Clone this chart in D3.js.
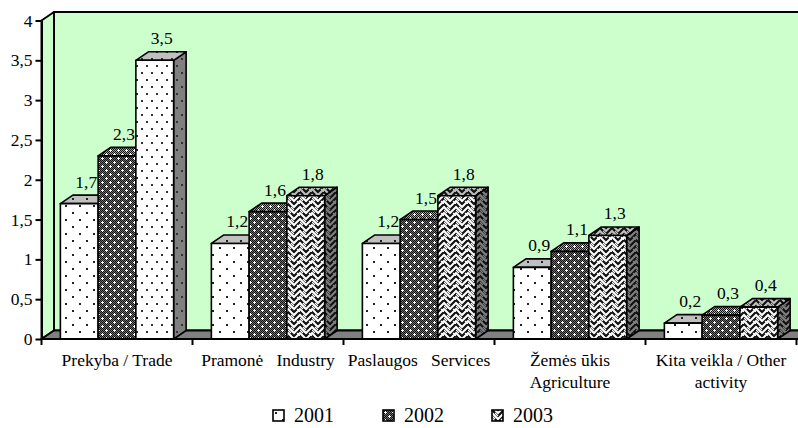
<!DOCTYPE html>
<html>
<head>
<meta charset="utf-8">
<script src="https://cdn.jsdelivr.net/npm/d3@7"></script>
<style>
  body { margin: 0; background: #fff; }
  svg { display: block; }
  svg text { font-family: "Liberation Serif", "DejaVu Serif", "Times New Roman", Times, serif; fill: #000; }
</style>
</head>
<body>
<svg id="chart" width="798" height="428"></svg>
<script>
// Activity categories (each entry = label lines)
const categories = [
  ["Prekyba / Trade"],
  ["Pramonė   Industry"],
  ["Paslaugos   Services"],
  ["Žemės ūkis", "Agriculture"],
  ["Kita veikla / Other", "activity"]
];
const years = ["2001", "2002", "2003"];
const values2001 = [1.7, 1.2, 1.2, 0.9, 0.2];
const values2002 = [2.3, 1.6, 1.5, 1.1, 0.3];
const values2003 = [3.5, 1.8, 1.8, 1.3, 0.4];
const yTicks = [0, 0.5, 1, 1.5, 2, 2.5, 3, 3.5, 4];

const series = [values2001, values2002, values2003];
const keys = categories.map(c => c.join(" "));
const FONT = '"Liberation Serif", "DejaVu Serif", "Times New Roman", Times, serif';

const svg = d3.select("#chart").attr("font-family", FONT);
const locale = d3.formatLocale({ decimal: ",", thousands: " ", grouping: [3], currency: ["", ""] });
const fmtTick = locale.format("~g");
const fmtVal = locale.format(".1f");

// 3D depth offset of walls and columns
const DX = 12.5, DY = -8.5;

const x = d3.scaleBand().domain(keys).range([41.5, 796.5]).paddingInner(0).paddingOuter(0);
const xs = d3.scaleBand().domain(years).range([0, x.bandwidth()]).paddingInner(0).paddingOuter(0.5);
const y = d3.scaleLinear().domain([0, 4]).range([339, 20.5]);

// ---------- fill patterns ----------
const defs = svg.append("defs");
function pattern(id, w, h, bg, draw) {
  const p = defs.append("pattern").attr("id", id)
    .attr("patternUnits", "userSpaceOnUse").attr("width", w).attr("height", h);
  p.append("rect").attr("width", w).attr("height", h).attr("fill", bg);
  draw(p);
}
function dot(p, cx, cy, col) {
  p.append("rect").attr("x", cx - 1).attr("y", cy - 1).attr("width", 2).attr("height", 2).attr("fill", col || "#222");
}
const faceBg = { front: "#ffffff", top: "#c0c0c0", side: "#808080" };
const meshBg = { front: "#707070", top: "#a0a0a0", side: "#505050" };
Object.keys(faceBg).forEach(face => {
  pattern(`sparse-${face}`, 14, 14, faceBg[face], p => { dot(p, 3, 3); dot(p, 10, 10); });
  pattern(`dense-${face}`, 10, 14, faceBg[face], p => { dot(p, 2, 3, "#333"); dot(p, 7, 10, "#333"); });
  // woven zig-zag: chevron rows, every other row shifted half a tile
  pattern(`zig-${face}`, 12, 12, faceBg[face], p => {
    p.append("path")
      .attr("d",
        "M-6,6 L0,0 L6,6 L12,0 L18,6 " +
        "M-6,12 L0,6 L6,12 L12,6 L18,12 " +
        "M-6,0 L0,-6 L6,0 L12,-6 L18,0 " +
        "M-6,18 L0,12 L6,18 L12,12 L18,18")
      .attr("fill", "none").attr("stroke", "#111").attr("stroke-width", 2.2);
    p.append("path")
      .attr("d", "M3,3 L6,6 M9,9 L12,12 M0,6 L3,9")
      .attr("fill", "none").attr("stroke", faceBg[face]).attr("stroke-width", 1.2);
  });
  pattern(`mesh-${face}`, 8, 8, meshBg[face], p => {
    for (let i = 0; i < 8; i++) for (let j = 0; j < 8; j++) {
      if ((i + j) % 2 === 0) p.append("rect").attr("x", i).attr("y", j).attr("width", 1).attr("height", 1).attr("fill", "#111");
    }
    [[2, 2], [6, 6]].forEach(([cx, cy]) => {
      p.append("path").attr("d", `M${cx - 1},${cy + 0.5}h3M${cx + 0.5},${cy - 1}v3`)
        .attr("stroke", "#fff").attr("stroke-width", 1);
    });
  });
});
const seriesPattern = ["sparse", "mesh", "zig"];
function fillFor(s, i, face) {
  const name = (s === 2 && i === 0) ? "dense" : seriesPattern[s];
  return `url(#${name}-${face})`;
}

// ---------- walls and floor ----------
const x0w = x.range()[0], y0 = y(0), yTop = y(4);
const walls = svg.append("g").attr("stroke", "#000").attr("stroke-width", 2).attr("stroke-linejoin", "round");
walls.append("rect")
  .attr("x", x0w + DX).attr("y", yTop + DY)
  .attr("width", 900).attr("height", y0 - yTop)
  .attr("fill", "#ccffcc");
walls.append("polygon")
  .attr("points", [[x0w, yTop], [x0w + DX, yTop + DY], [x0w + DX, y0 + DY], [x0w, y0]].join(" "))
  .attr("fill", "#ccffcc");
walls.append("polygon")
  .attr("points", [[x0w, y0], [x0w + DX, y0 + DY], [820, y0 + DY], [820, y0]].join(" "))
  .attr("fill", "#808080");

// ---------- columns ----------
const bars = svg.append("g").attr("stroke", "#000").attr("stroke-width", 1.6).attr("stroke-linejoin", "round");
keys.forEach((k, i) => {
  series.forEach((vals, s) => {
    const v = vals[i];
    const a = x(k) + xs(years[s]);
    const b = a + xs.bandwidth();
    const t = y(v);
    const g = bars.append("g");
    g.append("polygon")
      .attr("points", [[b, t], [b + DX, t + DY], [b + DX, y0 + DY], [b, y0]].join(" "))
      .attr("fill", fillFor(s, i, "side"));
    g.append("polygon")
      .attr("points", [[a, t], [a + DX, t + DY], [b + DX, t + DY], [b, t]].join(" "))
      .attr("fill", fillFor(s, i, "top"));
    g.append("rect")
      .attr("x", a).attr("y", t).attr("width", b - a).attr("height", y0 - t)
      .attr("fill", fillFor(s, i, "front"));
  });
});

// ---------- value labels ----------
const labels = svg.append("g").attr("font-size", 17.5).attr("text-anchor", "middle");
keys.forEach((k, i) => {
  series.forEach((vals, s) => {
    const v = vals[i];
    labels.append("text")
      .attr("x", x(k) + xs(years[s]) + xs.bandwidth() / 2 + 7)
      .attr("y", y(v) - 16)
      .text(fmtVal(v));
  });
});

// ---------- axes ----------
const yAxis = svg.append("g")
  .attr("transform", `translate(${x0w},0)`)
  .call(d3.axisLeft(y).tickValues(yTicks).tickFormat(fmtTick).tickSize(6).tickSizeOuter(0).tickPadding(3));
yAxis.attr("font-family", FONT).attr("font-size", 17.5);
yAxis.select(".domain").attr("stroke", "#000").attr("stroke-width", 2);
yAxis.selectAll(".tick line").attr("stroke", "#000").attr("stroke-width", 2);

const xAxis = svg.append("g");
xAxis.append("line")
  .attr("x1", x0w).attr("x2", 798).attr("y1", y0).attr("y2", y0)
  .attr("stroke", "#000").attr("stroke-width", 2);
const bounds = keys.map(k => x(k)).concat([x.range()[1]]);
xAxis.selectAll("line.bound").data(bounds).join("line").attr("class", "bound")
  .attr("x1", d => d).attr("x2", d => d).attr("y1", y0).attr("y2", y0 + 6)
  .attr("stroke", "#000").attr("stroke-width", 2);
const catText = xAxis.selectAll("text.cat").data(categories).join("text").attr("class", "cat")
  .attr("font-size", 17.5).attr("text-anchor", "middle")
  .style("white-space", "pre")
  .attr("transform", (d, i) => `translate(${x(keys[i]) + x.bandwidth() / 2},${y0 + 27})`);
catText.selectAll("tspan").data(d => d).join("tspan")
  .attr("x", 0).attr("dy", (d, j) => j === 0 ? 0 : 22)
  .style("white-space", "pre")
  .text(d => d);

// ---------- legend ----------
const legendX = [273, 383, 492];
const legend = svg.append("g");
years.forEach((yr, s) => {
  const lg = legend.append("g").attr("transform", `translate(${legendX[s]},410)`);
  lg.append("rect").attr("width", 11).attr("height", 11)
    .attr("fill", `url(#${seriesPattern[s]}-front)`).attr("stroke", "#000").attr("stroke-width", 1.6);
  lg.append("text").attr("x", 21).attr("y", 11.5).attr("font-size", 20).text(yr);
});
</script>
</body>
</html>
